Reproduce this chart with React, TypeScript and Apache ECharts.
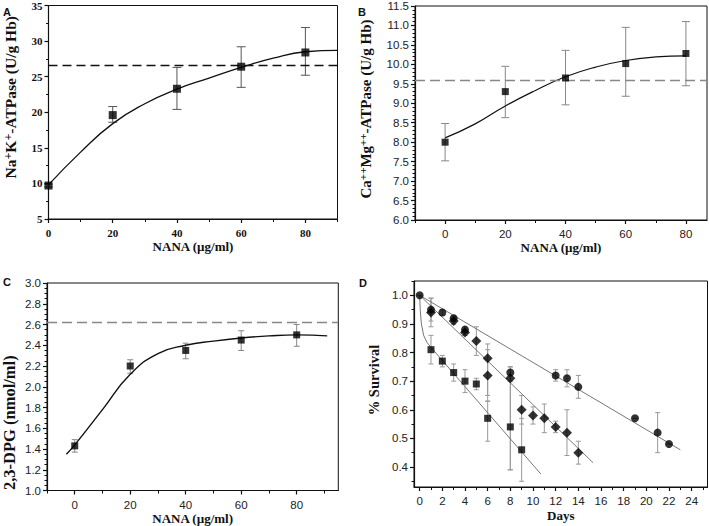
import React, { useEffect, useRef } from "react";
import * as echarts from "echarts";

// ---------- Panel A: Na+K+-ATPase ----------
const A_x = [0, 20, 40, 60, 80];
const A_y = [9.7, 19.6, 23.3, 26.4, 28.4];
const A_lo = [9.5, 18.6, 20.4, 23.5, 25.2];
const A_hi = [9.9, 20.8, 26.3, 29.2, 31.9];
const A_fitX = [0, 10, 20, 30, 40, 50, 60, 70, 80, 90];
const A_fitY = [9.8, 14.4, 18.4, 21.2, 23.25, 24.8, 26.3, 27.6, 28.5, 28.7];
const A_ref = 26.6;

// ---------- Panel B: Ca++Mg++-ATPase ----------
const B_x = [0, 20, 40, 60, 80];
const B_y = [8.0, 9.3, 9.65, 10.02, 10.28];
const B_lo = [7.52, 8.63, 8.96, 9.18, 9.45];
const B_hi = [8.48, 9.95, 10.36, 10.95, 11.1];
const B_fitX = [0, 10, 20, 30, 40, 50, 60, 70, 80];
const B_fitY = [8.11, 8.47, 8.93, 9.33, 9.68, 9.93, 10.1, 10.19, 10.22];
const B_ref = 9.6;

// ---------- Panel C: 2,3-DPG ----------
const C_x = [0, 20, 40, 60, 80];
const C_y = [1.43, 2.2, 2.35, 2.45, 2.5];
const C_lo = [1.37, 2.13, 2.27, 2.35, 2.39];
const C_hi = [1.49, 2.26, 2.42, 2.54, 2.6];
const C_fitX = [-3, 0, 10, 20, 30, 40, 50, 60, 70, 80, 91];
const C_fitY = [1.35, 1.44, 1.78, 2.12, 2.32, 2.4, 2.44, 2.47, 2.49, 2.5, 2.49];
const C_ref = 2.62;

// ---------- Panel D: % Survival ----------
const D_circleX = [0, 1, 2, 3, 4, 8, 12, 13, 14, 19, 21, 22];
const D_circleY = [1.0, 0.95, 0.94, 0.92, 0.88, 0.73, 0.72, 0.71, 0.68, 0.57, 0.52, 0.48];
const D_circleLo = [1.0, 0.91, 0.93, 0.9, 0.86, 0.7, 0.7, 0.68, 0.64, 0.57, 0.45, 0.48];
const D_circleHi = [1.0, 0.99, 0.95, 0.93, 0.89, 0.75, 0.74, 0.74, 0.72, 0.57, 0.59, 0.48];
const D_diamondX = [1, 3, 4, 5, 6, 6, 8, 9, 10, 11, 12, 13, 14];
const D_diamondY = [0.94, 0.91, 0.87, 0.84, 0.78, 0.72, 0.71, 0.6, 0.58, 0.57, 0.54, 0.52, 0.45];
const D_diamondLo = [0.89, 0.9, 0.86, 0.79, 0.65, 0.63, 0.39, 0.55, 0.55, 0.52, 0.52, 0.44, 0.41];
const D_diamondHi = [0.99, 0.92, 0.88, 0.89, 0.83, 0.81, 0.75, 0.65, 0.61, 0.62, 0.56, 0.6, 0.49];
const D_squareX = [1, 2, 3, 4, 5, 6, 8, 9];
const D_squareY = [0.81, 0.77, 0.73, 0.7, 0.69, 0.57, 0.54, 0.46];
const D_squareLo = [0.76, 0.75, 0.7, 0.66, 0.67, 0.49, 0.39, 0.35];
const D_squareHi = [0.86, 0.79, 0.76, 0.74, 0.71, 0.63, 0.7, 0.57];
const D_fitCircleX = [0, 23];
const D_fitCircleY = [1.0, 0.46];
const D_fitDiamondX = [0, 15.3];
const D_fitDiamondY = [1.0, 0.415];
const D_fitSquareX = [0, 0.05, 0.15, 0.35, 0.65, 1, 10.7];
const D_fitSquareY = [1.0, 0.95, 0.9, 0.86, 0.835, 0.818, 0.375];

// ---------- tick values ----------
const range = (a: number, b: number, s: number) => {
  const out: number[] = [];
  for (let v = a; v <= b + 1e-9; v += s) out.push(Math.round(v * 1000) / 1000);
  return out;
};
const A_xMajor = [0, 20, 40, 60, 80];
const A_xMinor = [10, 30, 50, 70, 90];
const A_yMajor = [5, 10, 15, 20, 25, 30, 35];
const A_yMinor = range(7.5, 32.5, 5);
const B_xMajor = [0, 20, 40, 60, 80];
const B_xMinor = [-10, 10, 30, 50, 70];
const B_yMajor = range(6, 11.5, 0.5);
const B_yMinor = range(6.1, 11.4, 0.1);
const C_xMajor = [0, 20, 40, 60, 80];
const C_xMinor = [-10, 10, 30, 50, 70, 90];
const C_yMajor = range(1, 3, 0.2);
const C_yMinor = range(1.05, 2.95, 0.05);
const D_xMajor = range(0, 24, 2);
const D_xMinor = range(1, 25, 2);
const D_yMajor = range(0.4, 1.0, 0.1);
const D_yMinor = range(0.35, 1.05, 0.05);

const zip = (a: number[], b: number[]) => a.map((v, i) => [v, b[i]]);
const zip3 = (a: number[], b: number[], c: number[]) => a.map((v, i) => [v, b[i], c[i]]);

const SERIF = "'Liberation Serif', 'Times New Roman', serif";
const SANS = "'Liberation Sans', Arial, sans-serif";

export default function App() {
  const ref = useRef<HTMLDivElement>(null);
  useEffect(() => {
    if (!ref.current) return;
    const chart = echarts.init(ref.current, undefined, { renderer: "svg" });

    const grids = [
      { left: 48.5, top: 4, width: 289, height: 215 },
      { left: 415, top: 6, width: 292, height: 214 },
      { left: 44.3, top: 283, width: 294, height: 207.5 },
      { left: 414, top: 281, width: 293.5, height: 206 },
    ].map((g) => ({ ...g, show: true, borderColor: "#111", borderWidth: 1, backgroundColor: "transparent" }));

    const xAxes: any[] = [];
    const yAxes: any[] = [];

    const tickLabel = (serifBold: boolean) =>
      serifBold
        ? { fontFamily: SERIF, fontWeight: "bold", fontSize: 11, color: "#111" }
        : { fontFamily: SANS, fontSize: 11.5, color: "#222" };

    const nameStyle = (size: number, padding: number[] = [0, 0, 0, 0]) => ({
      fontFamily: SERIF, fontWeight: "bold", fontSize: size, color: "#111", padding,
      rich: {
        s: { fontFamily: SERIF, fontWeight: "bold", fontSize: Math.round(size * 0.75), color: "#111", verticalAlign: "top", padding: [0, 0, 6, 0] },
      },
    });

    const addPanel = (
      gi: number,
      x: { min: number; max: number; major: number[]; minor: number[]; name: string; gap: number },
      y: { min: number; max: number; major: number[]; minor: number[]; name: string; gap: number; size: number; pad: number[]; fmt?: (v: number) => string },
      serifLabels: boolean
    ) => {
      xAxes.push({
        type: "value", gridIndex: gi, min: x.min, max: x.max, position: "bottom",
        name: x.name, nameLocation: "middle", nameGap: x.gap, nameTextStyle: nameStyle(13),
        axisLine: { show: true, onZero: false, lineStyle: { color: "#111", width: 1.2 } },
        axisTick: { show: true, customValues: x.major, length: 4, lineStyle: { color: "#111", width: 1.2 } },
        axisLabel: { show: true, customValues: x.major, margin: 8, ...tickLabel(serifLabels) },
        splitLine: { show: false },
      });
      xAxes.push({
        type: "value", gridIndex: gi, min: x.min, max: x.max, position: "bottom",
        axisLine: { show: false, onZero: false },
        axisTick: { show: true, customValues: x.minor, length: 3, lineStyle: { color: "#111", width: 1 } },
        axisLabel: { show: false },
        splitLine: { show: false },
      });
      yAxes.push({
        type: "value", gridIndex: gi, min: y.min, max: y.max, position: "left",
        name: y.name, nameLocation: "middle", nameGap: y.gap, nameTextStyle: nameStyle(y.size, y.pad),
        axisLine: { show: true, onZero: false, lineStyle: { color: "#111", width: 1.2 } },
        axisTick: { show: true, customValues: y.major, length: 4, lineStyle: { color: "#111", width: 1.2 } },
        axisLabel: {
          show: true, customValues: y.major, margin: 6, ...tickLabel(serifLabels),
          formatter: y.fmt || ((v: number) => String(v)),
        },
        splitLine: { show: false },
      });
      yAxes.push({
        type: "value", gridIndex: gi, min: y.min, max: y.max, position: "left",
        axisLine: { show: false, onZero: false },
        axisTick: { show: true, customValues: y.minor, length: 2.5, lineStyle: { color: "#111", width: 1 } },
        axisLabel: { show: false },
        splitLine: { show: false },
      });
    };

    const f1 = (v: number) => v.toFixed(1);
    addPanel(0,
      { min: 0, max: 90, major: A_xMajor, minor: A_xMinor, name: "NANA (µg/ml)", gap: 21 },
      { min: 5, max: 35, major: A_yMajor, minor: A_yMinor, name: "Na{s|+}K{s|+}-ATPase (U/g Hb)", gap: 29, size: 15.5, pad: [0, 0, 0, 30] },
      true);
    addPanel(1,
      { min: -10, max: 87, major: B_xMajor, minor: B_xMinor, name: "NANA (µg/ml)", gap: 21 },
      { min: 6, max: 11.5, major: B_yMajor, minor: B_yMinor, name: "Ca{s|++}Mg{s|++}-ATPase (U/g Hb)", gap: 41, size: 15, pad: [0, 0, 0, 8], fmt: f1 },
      false);
    addPanel(2,
      { min: -10, max: 95, major: C_xMajor, minor: C_xMinor, name: "NANA (µg/ml)", gap: 21 },
      { min: 1, max: 3, major: C_yMajor, minor: C_yMinor, name: "2,3-DPG (nmol/ml)", gap: 29, size: 16.5, pad: [0, 72, 0, 0], fmt: f1 },
      false);
    addPanel(3,
      { min: -0.5, max: 25.4, major: D_xMajor, minor: D_xMinor, name: "Days", gap: 22 },
      { min: 0.33, max: 1.05, major: D_yMajor, minor: D_yMinor, name: "% Survival", gap: 33, size: 14.5, pad: [0, 0, 0, 8], fmt: f1 },
      false);

    const errBar = (gi: number, data: number[][], color: string, cap: number) => ({
      type: "custom",
      xAxisIndex: gi * 2,
      yAxisIndex: gi * 2,
      data,
      z: 2,
      encode: { x: 0, y: [1, 2] },
      renderItem: (params: any, api: any) => {
        const xv = api.value(0);
        const p1 = api.coord([xv, api.value(1)]);
        const p2 = api.coord([xv, api.value(2)]);
        const st = { stroke: color, lineWidth: 1 };
        return {
          type: "group",
          children: [
            { type: "line", shape: { x1: p1[0], y1: p1[1], x2: p2[0], y2: p2[1] }, style: st },
            { type: "line", shape: { x1: p1[0] - cap, y1: p1[1], x2: p1[0] + cap, y2: p1[1] }, style: st },
            { type: "line", shape: { x1: p2[0] - cap, y1: p2[1], x2: p2[0] + cap, y2: p2[1] }, style: st },
          ],
        };
      },
    });

    const scatter = (gi: number, data: number[][], symbol: string, size: number) => ({
      type: "scatter", xAxisIndex: gi * 2, yAxisIndex: gi * 2, data, symbol, symbolSize: size,
      itemStyle: { color: "#000" }, z: 5,
    });

    const fit = (gi: number, data: number[][], color: string, width: number, smooth: boolean | number, refLine?: { v: number; color: string; type: number[]; width: number }) => ({
      type: "line", xAxisIndex: gi * 2, yAxisIndex: gi * 2, data, smooth, showSymbol: false, symbol: "none",
      lineStyle: { color, width }, z: 3,
      markLine: refLine
        ? {
            symbol: "none", silent: true, label: { show: false },
            lineStyle: { color: refLine.color, type: refLine.type, width: refLine.width },
            data: [{ yAxis: refLine.v }],
          }
        : undefined,
    });

    const series: any[] = [
      // A
      fit(0, zip(A_fitX, A_fitY), "#111", 1.3, true, { v: A_ref, color: "#111", type: [9, 5], width: 1.4 }),
      errBar(0, zip3(A_x, A_lo, A_hi), "#555", 4.5),
      scatter(0, zip(A_x, A_y), "rect", 8),
      // B
      fit(1, zip(B_fitX, B_fitY), "#111", 1.2, true, { v: B_ref, color: "#888", type: [10, 5], width: 1.4 }),
      errBar(1, zip3(B_x, B_lo, B_hi), "#888", 4),
      scatter(1, zip(B_x, B_y), "rect", 7),
      // C
      fit(2, zip(C_fitX, C_fitY), "#111", 1.4, true, { v: C_ref, color: "#888", type: [10, 5], width: 1.3 }),
      errBar(2, zip3(C_x, C_lo, C_hi), "#888", 3),
      scatter(2, zip(C_x, C_y), "rect", 7),
      // D
      fit(3, zip(D_fitCircleX, D_fitCircleY), "#777", 1, false),
      fit(3, zip(D_fitDiamondX, D_fitDiamondY), "#777", 1, false),
      fit(3, zip(D_fitSquareX, D_fitSquareY), "#777", 1, false),
      errBar(3, zip3(D_circleX, D_circleLo, D_circleHi), "#999", 2.5),
      errBar(3, zip3(D_diamondX, D_diamondLo, D_diamondHi), "#999", 2.5),
      errBar(3, zip3(D_squareX, D_squareLo, D_squareHi), "#999", 2.5),
      scatter(3, zip(D_circleX, D_circleY), "circle", 8),
      scatter(3, zip(D_diamondX, D_diamondY), "diamond", 10),
      scatter(3, zip(D_squareX, D_squareY), "rect", 7),
    ];

    const letter = (t: string, x: number, y: number) => ({
      type: "text", left: x, top: y,
      style: { text: t, fontFamily: SANS, fontWeight: "bold", fontSize: 11, fill: "#111" },
    });

    chart.setOption({
      animation: false,
      backgroundColor: "#fff",
      grid: grids,
      xAxis: xAxes,
      yAxis: yAxes,
      series,
      graphic: [letter("A", 3, 6), letter("B", 358, 6), letter("C", 3, 276), letter("D", 359, 277)],
    });
    return () => chart.dispose();
  }, []);

  return <div ref={ref} style={{ position: "fixed", left: 0, top: 0, width: 709, height: 526 }} />;
}
